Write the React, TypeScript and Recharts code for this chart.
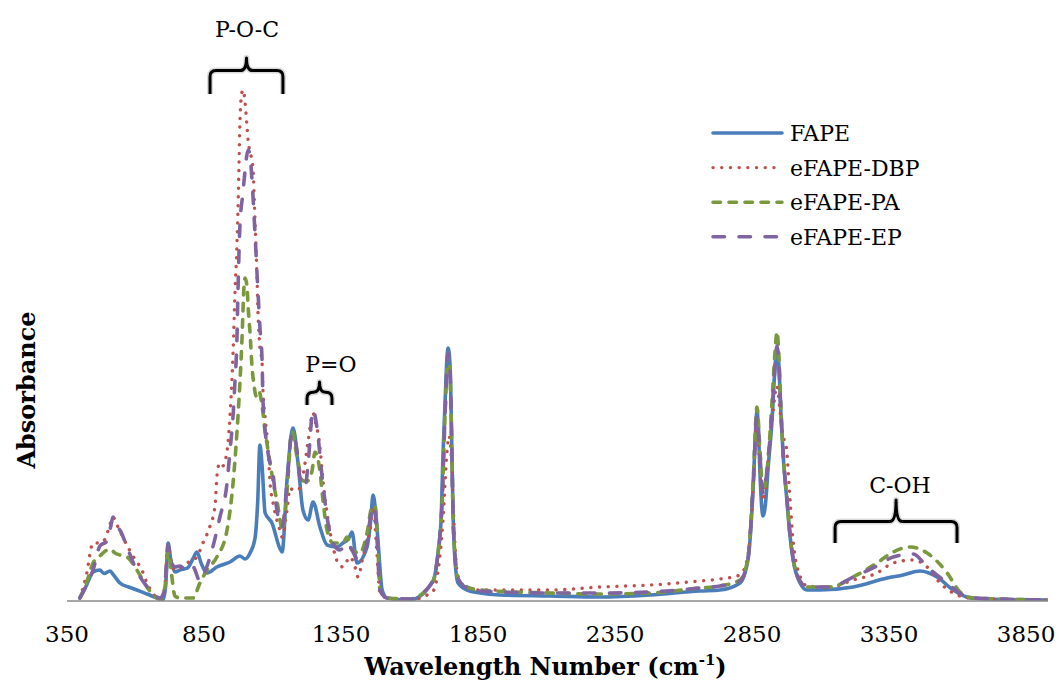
import React from "react";
import {
  LineChart, Line, XAxis, YAxis, Legend, ReferenceArea, ReferenceDot, Customized,
} from "recharts";

const FONT = "'DejaVu Serif', serif";

// ── Spectra (wavenumber cm-1 / absorbance) ──────────────────────────────────
const fapeWn = [397, 420, 445, 470, 485, 507, 520, 543, 575, 605, 642, 678, 700, 710, 719, 728, 744, 762, 790, 810, 824, 840, 861, 897, 945, 981, 1000, 1018, 1036, 1046, 1054, 1062, 1073, 1098, 1127, 1135, 1153, 1175, 1193, 1211, 1230, 1248, 1273, 1299, 1335, 1357, 1378, 1390, 1408, 1445, 1458, 1467, 1476, 1485, 1500, 1518, 1600, 1686, 1704, 1715, 1722, 1730, 1737, 1741, 1748, 1753, 1759, 1766, 1777, 1810, 1857, 1930, 2113, 2295, 2478, 2660, 2733, 2806, 2835, 2854, 2862, 2868, 2874, 2880, 2890, 2900, 2908, 2923, 2934, 2941, 2948, 2955, 2963, 2978, 2989, 3000, 3025, 3051, 3098, 3219, 3343, 3401, 3463, 3525, 3584, 3646, 3700, 3930];
const fapeAbs = [0.006, 0.03, 0.058, 0.062, 0.055, 0.06, 0.052, 0.036, 0.028, 0.022, 0.014, 0.006, 0.002, 0.03, 0.116, 0.085, 0.058, 0.062, 0.066, 0.085, 0.098, 0.075, 0.056, 0.068, 0.078, 0.09, 0.084, 0.096, 0.125, 0.2, 0.312, 0.27, 0.176, 0.156, 0.105, 0.098, 0.242, 0.346, 0.276, 0.182, 0.162, 0.198, 0.148, 0.112, 0.108, 0.116, 0.125, 0.138, 0.076, 0.108, 0.16, 0.212, 0.18, 0.12, 0.022, 0.006, 0.002, 0.04, 0.096, 0.16, 0.29, 0.4, 0.49, 0.506, 0.47, 0.35, 0.17, 0.082, 0.036, 0.022, 0.016, 0.012, 0.01, 0.008, 0.012, 0.02, 0.022, 0.036, 0.082, 0.228, 0.33, 0.382, 0.33, 0.24, 0.17, 0.2, 0.262, 0.362, 0.47, 0.506, 0.47, 0.38, 0.296, 0.196, 0.128, 0.082, 0.036, 0.022, 0.022, 0.028, 0.046, 0.052, 0.06, 0.048, 0.022, 0.006, 0.004, 0.002];

const dbpWn = [397, 420, 445, 470, 490, 505, 518, 530, 543, 570, 605, 620, 642, 665, 690, 705, 719, 730, 744, 788, 824, 846, 872, 890, 899, 908, 918, 934, 948, 956, 963, 970, 974, 978, 981, 988, 992, 1000, 1007, 1011, 1018, 1025, 1029, 1036, 1043, 1047, 1054, 1062, 1065, 1073, 1084, 1091, 1102, 1127, 1135, 1153, 1164, 1175, 1193, 1211, 1230, 1248, 1255, 1273, 1284, 1299, 1321, 1339, 1357, 1383, 1401, 1412, 1430, 1456, 1467, 1481, 1492, 1518, 1600, 1686, 1704, 1722, 1737, 1744, 1751, 1759, 1766, 1777, 1810, 1857, 2113, 2295, 2478, 2660, 2733, 2806, 2835, 2854, 2868, 2879, 2890, 2908, 2923, 2941, 2952, 2963, 2974, 2989, 3000, 3025, 3051, 3135, 3219, 3306, 3365, 3438, 3489, 3536, 3584, 3646, 3930];
const dbpAbs = [0.006, 0.05, 0.116, 0.116, 0.125, 0.15, 0.168, 0.155, 0.14, 0.11, 0.078, 0.066, 0.036, 0.014, 0.004, 0.02, 0.112, 0.08, 0.062, 0.076, 0.088, 0.116, 0.15, 0.19, 0.26, 0.276, 0.27, 0.3, 0.4, 0.496, 0.616, 0.708, 0.782, 0.882, 0.956, 1.016, 1.022, 0.996, 0.948, 0.922, 0.896, 0.882, 0.862, 0.762, 0.656, 0.576, 0.508, 0.476, 0.422, 0.368, 0.302, 0.236, 0.196, 0.142, 0.128, 0.182, 0.226, 0.222, 0.222, 0.25, 0.32, 0.376, 0.362, 0.308, 0.242, 0.176, 0.108, 0.076, 0.068, 0.088, 0.068, 0.048, 0.088, 0.142, 0.188, 0.096, 0.016, 0.006, 0.002, 0.02, 0.06, 0.16, 0.3, 0.33, 0.3, 0.2, 0.11, 0.05, 0.026, 0.022, 0.022, 0.028, 0.032, 0.04, 0.044, 0.052, 0.09, 0.22, 0.36, 0.26, 0.2, 0.28, 0.36, 0.43, 0.38, 0.33, 0.312, 0.2, 0.12, 0.05, 0.03, 0.028, 0.042, 0.056, 0.076, 0.082, 0.068, 0.036, 0.016, 0.006, 0.002];

const paWn = [397, 420, 445, 470, 490, 507, 525, 543, 569, 605, 642, 664, 690, 708, 719, 730, 744, 762, 810, 835, 861, 897, 934, 956, 970, 981, 989, 995, 1000, 1007, 1011, 1018, 1025, 1033, 1040, 1050, 1062, 1073, 1084, 1102, 1116, 1138, 1153, 1171, 1189, 1211, 1226, 1244, 1255, 1273, 1284, 1299, 1321, 1357, 1372, 1390, 1419, 1445, 1463, 1474, 1485, 1492, 1518, 1600, 1686, 1704, 1719, 1730, 1737, 1741, 1748, 1753, 1759, 1766, 1777, 1810, 1857, 2113, 2295, 2478, 2660, 2733, 2806, 2835, 2854, 2868, 2879, 2890, 2908, 2923, 2934, 2941, 2948, 2955, 2963, 2978, 2989, 3000, 3025, 3051, 3135, 3219, 3306, 3365, 3427, 3489, 3562, 3609, 3657, 3930];
const paAbs = [0.006, 0.035, 0.076, 0.09, 0.1, 0.104, 0.096, 0.092, 0.088, 0.062, 0.028, 0.012, 0.004, 0.03, 0.1, 0.06, 0.01, 0.006, 0.006, 0.036, 0.062, 0.088, 0.142, 0.236, 0.336, 0.436, 0.53, 0.62, 0.646, 0.628, 0.588, 0.536, 0.47, 0.43, 0.41, 0.42, 0.39, 0.34, 0.3, 0.24, 0.2, 0.142, 0.22, 0.34, 0.29, 0.24, 0.24, 0.26, 0.298, 0.26, 0.202, 0.142, 0.116, 0.116, 0.128, 0.102, 0.096, 0.136, 0.188, 0.19, 0.102, 0.022, 0.006, 0.004, 0.04, 0.096, 0.2, 0.38, 0.47, 0.49, 0.45, 0.34, 0.17, 0.09, 0.045, 0.028, 0.022, 0.016, 0.014, 0.016, 0.026, 0.03, 0.042, 0.085, 0.24, 0.388, 0.3, 0.216, 0.28, 0.4, 0.5, 0.538, 0.49, 0.39, 0.3, 0.2, 0.13, 0.085, 0.04, 0.028, 0.028, 0.048, 0.076, 0.098, 0.108, 0.096, 0.056, 0.018, 0.006, 0.002];

const epWn = [397, 420, 445, 470, 496, 510, 518, 530, 543, 569, 605, 653, 689, 705, 719, 730, 744, 762, 788, 810, 835, 861, 872, 908, 934, 945, 956, 963, 970, 974, 981, 992, 1000, 1011, 1018, 1025, 1036, 1043, 1054, 1062, 1065, 1080, 1091, 1098, 1116, 1135, 1153, 1171, 1189, 1200, 1219, 1230, 1248, 1262, 1281, 1299, 1321, 1346, 1372, 1390, 1412, 1438, 1463, 1470, 1481, 1492, 1518, 1600, 1686, 1704, 1719, 1730, 1737, 1741, 1748, 1753, 1759, 1766, 1777, 1810, 1857, 2113, 2295, 2478, 2660, 2733, 2806, 2835, 2854, 2868, 2879, 2890, 2908, 2923, 2934, 2941, 2948, 2955, 2963, 2978, 2989, 3000, 3025, 3051, 3135, 3219, 3306, 3365, 3438, 3489, 3562, 3620, 3657, 3930];
const epAbs = [0.006, 0.03, 0.062, 0.11, 0.12, 0.15, 0.168, 0.15, 0.142, 0.108, 0.06, 0.022, 0.006, 0.02, 0.112, 0.08, 0.068, 0.07, 0.06, 0.068, 0.04, 0.07, 0.088, 0.168, 0.236, 0.302, 0.37, 0.44, 0.52, 0.62, 0.75, 0.816, 0.862, 0.902, 0.89, 0.842, 0.736, 0.66, 0.548, 0.48, 0.402, 0.31, 0.276, 0.268, 0.182, 0.148, 0.236, 0.336, 0.302, 0.248, 0.228, 0.276, 0.382, 0.348, 0.248, 0.168, 0.116, 0.102, 0.116, 0.102, 0.082, 0.102, 0.182, 0.19, 0.128, 0.022, 0.006, 0.004, 0.04, 0.096, 0.2, 0.38, 0.47, 0.496, 0.46, 0.34, 0.17, 0.09, 0.045, 0.026, 0.02, 0.016, 0.016, 0.018, 0.026, 0.03, 0.04, 0.085, 0.23, 0.37, 0.29, 0.216, 0.28, 0.38, 0.47, 0.51, 0.47, 0.38, 0.3, 0.2, 0.13, 0.085, 0.04, 0.028, 0.028, 0.048, 0.07, 0.088, 0.094, 0.068, 0.036, 0.012, 0.006, 0.002];

const xTicks = [350, 850, 1350, 1850, 2350, 2850, 3350, 3850];

const SERIES = [
  { name: "FAPE", wn: fapeWn, abs: fapeAbs, color: "#4A7EBB", width: 3.6, dash: undefined },
  { name: "eFAPE-DBP", wn: dbpWn, abs: dbpAbs, color: "#C0504D", width: 3.4, dash: "0.1 8.6" },
  { name: "eFAPE-PA", wn: paWn, abs: paAbs, color: "#7A983C", width: 3.6, dash: "7.5 8.5" },
  { name: "eFAPE-EP", wn: epWn, abs: epAbs, color: "#8064A2", width: 3.6, dash: "11.5 14.5" },
];

// band assignments: brace span (x1..x2, bottom..tip) and label anchor, in data units
const BANDS = [
  { label: "P-O-C", x1: 872, x2: 1138, bottom: 1.014, tip: 1.086, tx: 1007, ty: 1.128, mid: 0.35 },
  { label: "P=O", x1: 1226, x2: 1317, bottom: 0.392, tip: 0.438, tx: 1313, ty: 0.458, mid: 0.45 },
  { label: "C-OH", x1: 3153, x2: 3598, bottom: 0.116, tip: 0.202, tx: 3390, ty: 0.216, mid: 0.5 },
];

function Brace(props: any) {
  const { x, y, width, height, mid } = props;
  const L = x, R = x + width, T = y, B = y + height;
  const M = T + height * mid;
  const cx = (L + R) / 2;
  const r = Math.min(6, (M - T) * 0.9);
  const d = `M${L},${B} L${L},${M + r} Q${L},${M} ${L + r},${M} L${cx - r},${M} Q${cx},${M} ${cx},${T} Q${cx},${M} ${cx + r},${M} L${R - r},${M} Q${R},${M} ${R},${M + r} L${R},${B}`;
  return (
    <g>
      <path d={d} fill="none" stroke="#000" strokeOpacity={0.15} strokeWidth={6} strokeLinejoin="round" />
      <path d={d} fill="none" stroke="#000" strokeWidth={3} strokeLinejoin="round" />
    </g>
  );
}

function BandLabel(props: any) {
  const { cx, cy, text } = props;
  return (
    <text x={cx} y={cy} textAnchor="middle" fontFamily={FONT} fontSize={22} fill="#000">
      {text}
    </text>
  );
}

function XTitle(props: any) {
  const vb = props.viewBox || { x: 67, y: 601, width: 981 };
  return (
    <text x={vb.x + vb.width / 2 - 12} y={vb.y + 74} textAnchor="middle" fontFamily={FONT} fontWeight="bold" fontSize={24} fill="#000">
      Wavelength Number (cm<tspan fontSize={15} dy={-10}>-1</tspan><tspan dy={10}>)</tspan>
    </text>
  );
}

function YTitle() {
  return (
    <text x={0} y={0} transform="translate(35, 390) rotate(-90)" textAnchor="middle" fontFamily={FONT} fontWeight="bold" fontSize={24} fill="#000">
      Absorbance
    </text>
  );
}

function SpectraLegend() {
  return (
    <svg width={260} height={140}>
      {SERIES.map((s, i) => {
        const y = 18 + i * 34.6;
        return (
          <g key={s.name}>
            <line x1={10} x2={79} y1={y} y2={y} stroke={s.color} strokeWidth={s.width} strokeDasharray={s.dash} strokeLinecap="round" />
            <text x={87} y={y + 8} fontFamily={FONT} fontSize={22} fill="#000">{s.name}</text>
          </g>
        );
      })}
    </svg>
  );
}

export default function App() {
  return (
    <div style={{ position: "absolute", left: 0, top: 0, background: "#fff" }}>
      <LineChart width={1063} height={680} margin={{ top: 1, right: 15, bottom: 19, left: 67 }}>
        <XAxis
          type="number"
          dataKey="wn"
          domain={[350, 3930]}
          ticks={xTicks}
          interval={0}
          allowDataOverflow
          tickLine={false}
          tickSize={0}
          tickMargin={25}
          height={60}
          axisLine={{ stroke: "#8a8a8a", strokeWidth: 1.5 }}
          tick={{ fill: "#000", fontSize: 23, fontFamily: FONT }}
          label={<XTitle />}
        />
        <YAxis hide domain={[0, 1.2]} allowDataOverflow />
        <Legend
          verticalAlign="middle"
          align="center"
          content={() => <SpectraLegend />}
          wrapperStyle={{ left: 703, top: 115, width: 260 }}
        />
        {SERIES.map((s) => (
          <Line
            key={s.name}
            name={s.name}
            data={s.wn.map((wn, i) => ({ wn, a: s.abs[i] }))}
            dataKey="a"
            type="monotone"
            stroke={s.color}
            strokeWidth={s.width}
            strokeDasharray={s.dash}
            strokeLinecap="round"
            dot={false}
            activeDot={false}
            isAnimationActive={false}
          />
        ))}
        {BANDS.map((b) => (
          <ReferenceArea
            key={b.label + "-brace"}
            x1={b.x1}
            x2={b.x2}
            y1={b.bottom}
            y2={b.tip}
            ifOverflow="visible"
            shape={(p: any) => <Brace {...p} mid={b.mid} />}
          />
        ))}
        {BANDS.map((b) => (
          <ReferenceDot
            key={b.label + "-text"}
            x={b.tx}
            y={b.ty}
            ifOverflow="visible"
            shape={(p: any) => <BandLabel {...p} text={b.label} />}
          />
        ))}
        <Customized component={YTitle} />
      </LineChart>
    </div>
  );
}
